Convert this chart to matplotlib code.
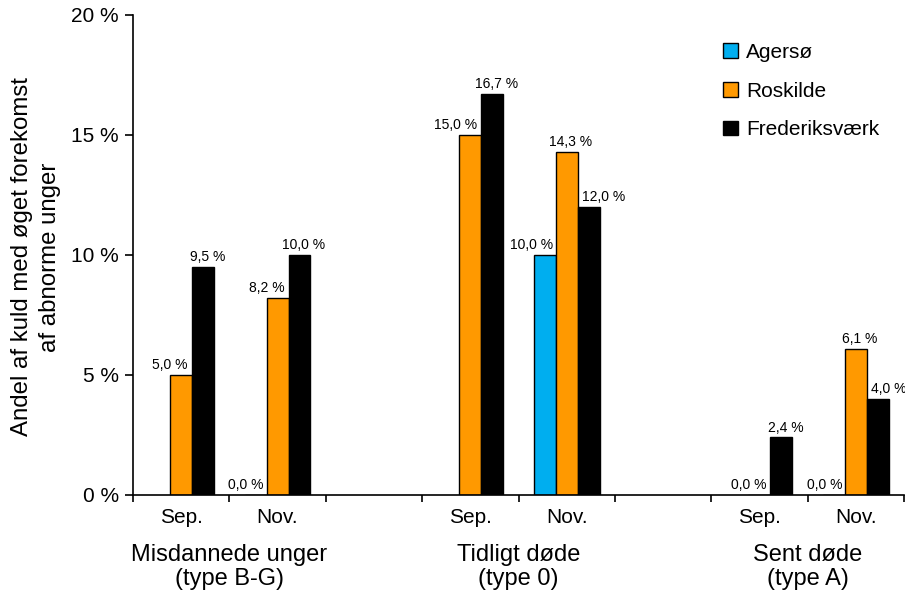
import numpy as np
import matplotlib
matplotlib.use("Agg")
import matplotlib.pyplot as plt

plt.rcParams['font.family'] = ['Liberation Sans', 'DejaVu Sans']

# ----- Data -----
groups = ["Misdannede unger\n(type B-G)", "Tidligt døde\n(type 0)", "Sent døde\n(type A)"]
months = ["Sep.", "Nov."]
series = ["Agersø", "Roskilde", "Frederiksværk"]
# order: group 1 Sep, Nov, group 2 Sep, Nov, group 3 Sep, Nov  (nan = no data)
agersoe = [np.nan, 0.0, np.nan, 10.0, np.nan, 0.0]
roskilde = [5.0, 8.2, 15.0, 14.3, 0.0, 6.1]
frederiksvaerk = [9.5, 10.0, 16.7, 12.0, 2.4, 4.0]
y_ticks = [0, 5, 10, 15, 20]
# ----------------

COLORS = ["#00AEEF", "#FF9900", "#000000"]
BAR_W = 0.227


def fmt(v):
    return f"{v:.1f}".replace(".", ",") + " %"


fig = plt.figure(figsize=(9.05, 5.94), dpi=100)
ax = fig.add_axes([133 / 905, 99 / 594, 771 / 905, 480 / 594])

# slot positions: each group takes two slots plus an empty slot between groups
slots = np.array([3 * g + m for g in range(len(groups)) for m in range(len(months))]) + 0.5
values = [agersoe, roskilde, frederiksvaerk]
offsets = [-BAR_W, 0.0, BAR_W]

for vals, off, col, name in zip(values, offsets, COLORS, series):
    ax.bar(slots + off, vals, width=BAR_W, color=col, edgecolor="black",
           linewidth=1.0, label=name)

# value labels, nudged sideways where the neighbouring bar is taller
for i, x in enumerate(slots):
    a, r, f = agersoe[i], roskilde[i], frederiksvaerk[i]
    if not np.isnan(a):
        ax.annotate(fmt(a), (x - BAR_W + BAR_W / 2, a), xytext=(-2, 2),
                    textcoords="offset points", ha="right", va="bottom", fontsize=10)
    if not np.isnan(r):
        if f > r:
            ax.annotate(fmt(r), (x + BAR_W / 2, r), xytext=(-3, 2),
                        textcoords="offset points", ha="right", va="bottom", fontsize=10)
        else:
            ax.annotate(fmt(r), (x, r), xytext=(3, 2),
                        textcoords="offset points", ha="center", va="bottom", fontsize=10)
    if not np.isnan(f):
        if r > f:
            ax.annotate(fmt(f), (x + BAR_W / 2, f), xytext=(3, 2),
                        textcoords="offset points", ha="left", va="bottom", fontsize=10)
        else:
            ax.annotate(fmt(f), (x + BAR_W, f), xytext=(3, 2),
                        textcoords="offset points", ha="center", va="bottom", fontsize=10)

ax.set_xlim(0, 8)
ax.set_ylim(0, 20)
ax.set_yticks(y_ticks)
ax.set_yticklabels([f"{t} %" for t in y_ticks], fontsize=15)
ax.set_xticks(np.arange(0, 9))
ax.set_xticklabels([])
ax.set_xticks(slots, minor=True)
ax.set_xticklabels([months[i % 2] for i in range(len(slots))], minor=True, fontsize=15)
ax.tick_params(axis="x", which="minor", length=0, pad=9.5)
ax.tick_params(axis="x", which="major", length=5, width=1.2, direction="out")
ax.tick_params(axis="y", length=6, width=1.2, direction="out", pad=4)

for s in ["top", "right"]:
    ax.spines[s].set_visible(False)
for s in ["left", "bottom"]:
    ax.spines[s].set_linewidth(1.2)

fig.text(36 / 905, 1 - 257 / 594, "Andel af kuld med øget forekomst\naf abnorme unger",
         rotation=90, ha="center", va="center", fontsize=17.3, linespacing=1.4)

# group labels under each pair of months
for g, name in enumerate(groups):
    ax.text(3 * g + 1, -0.1025, name, transform=ax.get_xaxis_transform(),
            ha="center", va="top", fontsize=17, linespacing=1.1)

ax.legend(loc="upper left", bbox_to_anchor=(723 / 905, 1 - 43 / 594),
          bbox_transform=fig.transFigure, frameon=False, fontsize=15,
          handlelength=0.7, handleheight=0.7, handletextpad=0.4,
          labelspacing=0.94, borderpad=0, borderaxespad=0)

fig.savefig("out.png", dpi=100)
